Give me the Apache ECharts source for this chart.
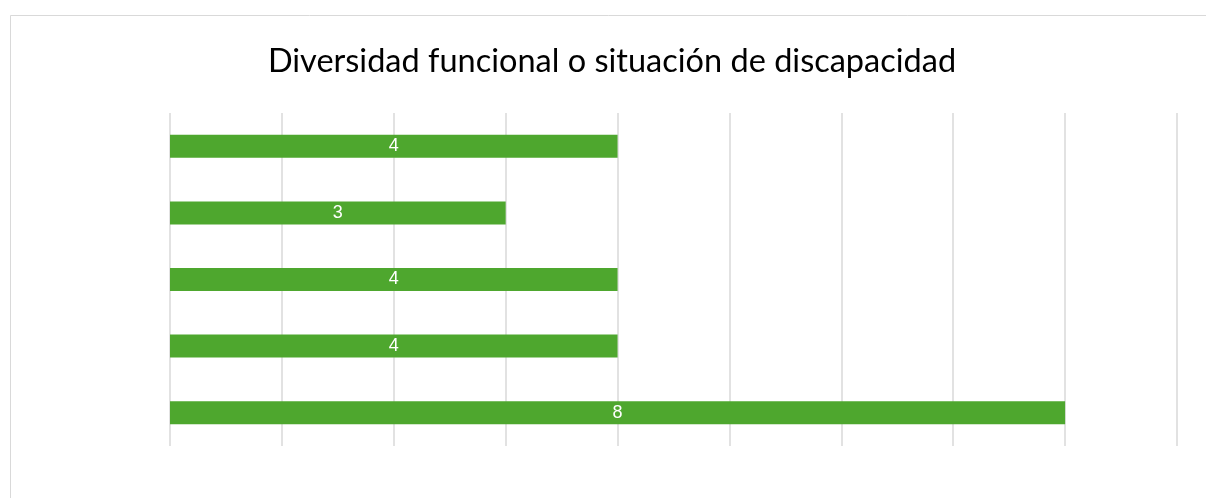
<!DOCTYPE html>
<html>
<head>
<meta charset="utf-8">
<script src="https://cdn.jsdelivr.net/npm/echarts@6/dist/echarts.min.js"></script>
<style>
  html, body { margin: 0; padding: 0; background: #fff; }
  #chart { width: 1206px; height: 498px; }
</style>
</head>
<body>
<div id="chart"></div>
<script>
const categories = ['Categoría 1', 'Categoría 2', 'Categoría 3', 'Categoría 4', 'Categoría 5']
const values = [4, 3, 4, 4, 8]
const titleText = 'Diversidad funcional o situación de discapacidad'

const chart = echarts.init(document.getElementById('chart'))
chart.setOption({
  animation: false,
  backgroundColor: '#fff',
  title: {
    text: titleText,
    left: 607,
    top: 40,
    textAlign: 'center',
    textStyle: {
      fontFamily: 'Lato',
      fontSize: 32.5,
      fontWeight: 'normal',
      color: '#000'
    }
  },
  graphic: [
    {
      type: 'rect',
      shape: { x: 10.5, y: 15.5, width: 1300, height: 600 },
      style: { fill: 'none', stroke: '#d9d9d9', lineWidth: 1 },
      silent: true
    }
  ],
  grid: {
    left: 170,
    right: 29,
    top: 113,
    bottom: 52
  },
  xAxis: {
    type: 'value',
    min: 0,
    max: 9,
    interval: 1,
    axisLabel: { show: false },
    axisLine: { show: false },
    axisTick: { show: false },
    splitLine: {
      show: true,
      lineStyle: { color: '#d9d9d9', width: 1.5 }
    }
  },
  yAxis: {
    type: 'category',
    inverse: true,
    data: categories,
    axisLabel: { show: false },
    axisLine: { show: false },
    axisTick: { show: false }
  },
  series: [
    {
      type: 'bar',
      data: values,
      barWidth: 23,
      itemStyle: { color: '#4ea72e' },
      label: {
        show: true,
        position: 'inside',
        color: '#fff',
        fontFamily: 'Liberation Sans',
        fontSize: 18
      }
    }
  ]
})
</script>
</body>
</html>
